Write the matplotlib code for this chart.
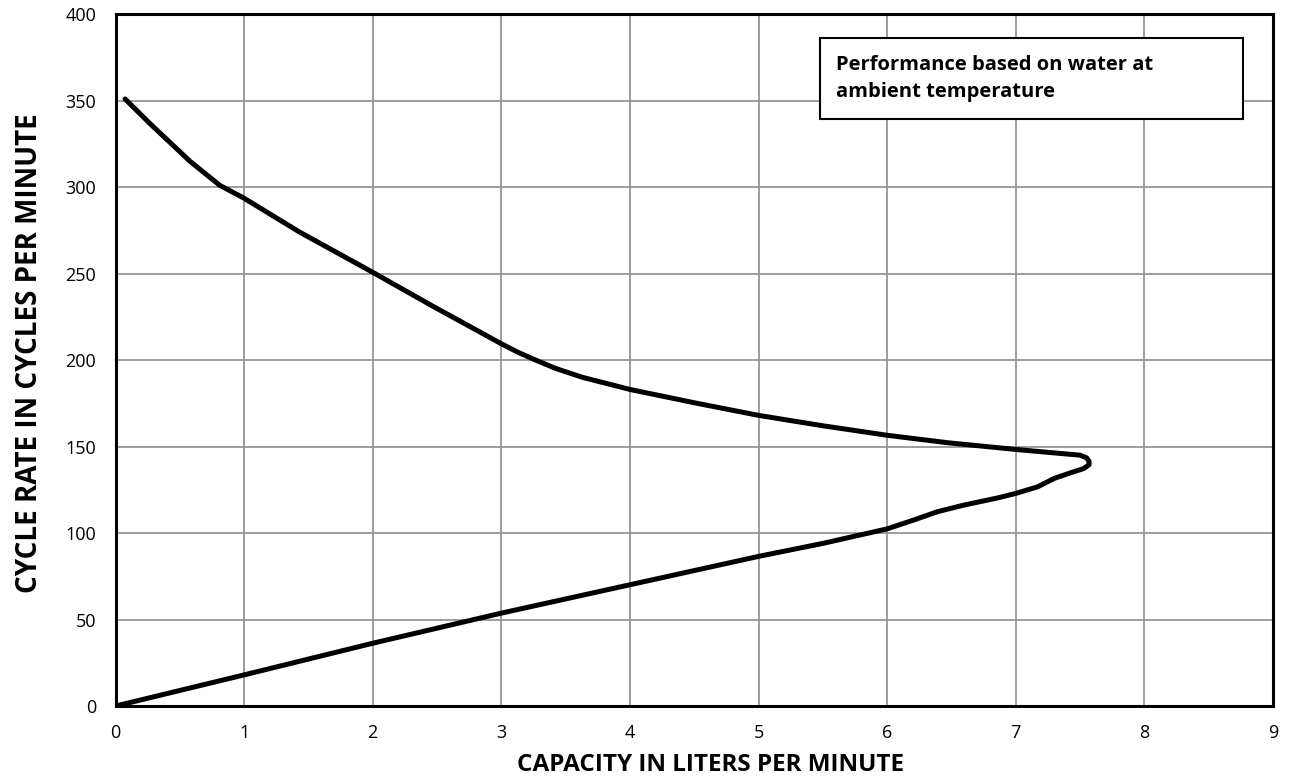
import matplotlib
matplotlib.use("Agg")
import matplotlib.pyplot as plt
from matplotlib.patches import Rectangle

# pump performance curve
# (one path: up the lower branch to the nose at ~7.6 l/min, then back along the top)
capacity_lpm = [0.0, 1.0, 2.0, 3.0, 4.0, 5.0, 5.5, 6.0, 6.21, 6.39, 6.6, 6.86,
                7.0, 7.17, 7.3, 7.45, 7.53, 7.57, 7.57, 7.55, 7.5, 7.0, 6.47,
                6.0, 5.5, 5.0, 4.5, 4.0, 3.63, 3.42, 3.24, 3.12, 3.0, 2.46,
                2.0, 1.43, 1.0, 0.81, 0.58, 0.27, 0.074]
cycle_rate = [0.0, 18.0, 36.3, 53.7, 70.1, 86.5, 94.0, 102.4, 107.6, 112.3, 116.2,
              120.3, 122.9, 126.7, 131.6, 135.4, 137.3, 139.5, 141.5, 143.5, 145.0,
              148.3, 152.2, 156.5, 162.0, 168.0, 175.3, 183.0, 190.0, 195.2, 200.8,
              204.8, 209.4, 231.4, 250.7, 274.0, 293.5, 301.0, 314.8, 336.5, 350.9]

x_ticks = list(range(0, 10))
y_ticks = list(range(0, 401, 50))

note = "Performance based on water at\nambient temperature"

plt.rcParams['font.family'] = ['Open Sans', 'DejaVu Sans']

fig = plt.figure(figsize=(12.91, 7.78), dpi=100)
ax = fig.add_axes([0.0895, 0.0925, 0.8965, 0.8895])

ax.plot(capacity_lpm, cycle_rate, color='black', linewidth=3.6,
        solid_capstyle='round', solid_joinstyle='round', zorder=3)

ax.set_xlim(0, 9)
ax.set_ylim(0, 400)
ax.set_xticks(x_ticks)
ax.set_yticks(y_ticks)
ax.tick_params(length=0, labelsize=13)
ax.tick_params(axis='x', pad=13)
ax.tick_params(axis='y', pad=14)
ax.grid(True, color='#939695', linewidth=1.3, zorder=1)
ax.set_axisbelow(True)
for s in ax.spines.values():
    s.set_linewidth(2.2)
    s.set_color('black')

ax.set_xlabel('CAPACITY IN LITERS PER MINUTE', fontsize=17.5, fontweight='bold')
ax.xaxis.set_label_coords(0.514, -0.068)
ax.set_ylabel('CYCLE RATE IN CYCLES PER MINUTE', fontsize=20, fontweight='bold')
ax.yaxis.set_label_coords(-0.062, 0.51)

# note box in the upper right
ax.add_patch(Rectangle((5.478, 339.5), 3.289, 46.4, facecolor='white',
                       edgecolor='black', linewidth=1.5, zorder=4))
ax.text(5.60, 376.5, note, fontsize=14.5, fontweight='bold', va='top', ha='left',
        linespacing=1.5, zorder=5)

fig.savefig('out.png', dpi=100)
